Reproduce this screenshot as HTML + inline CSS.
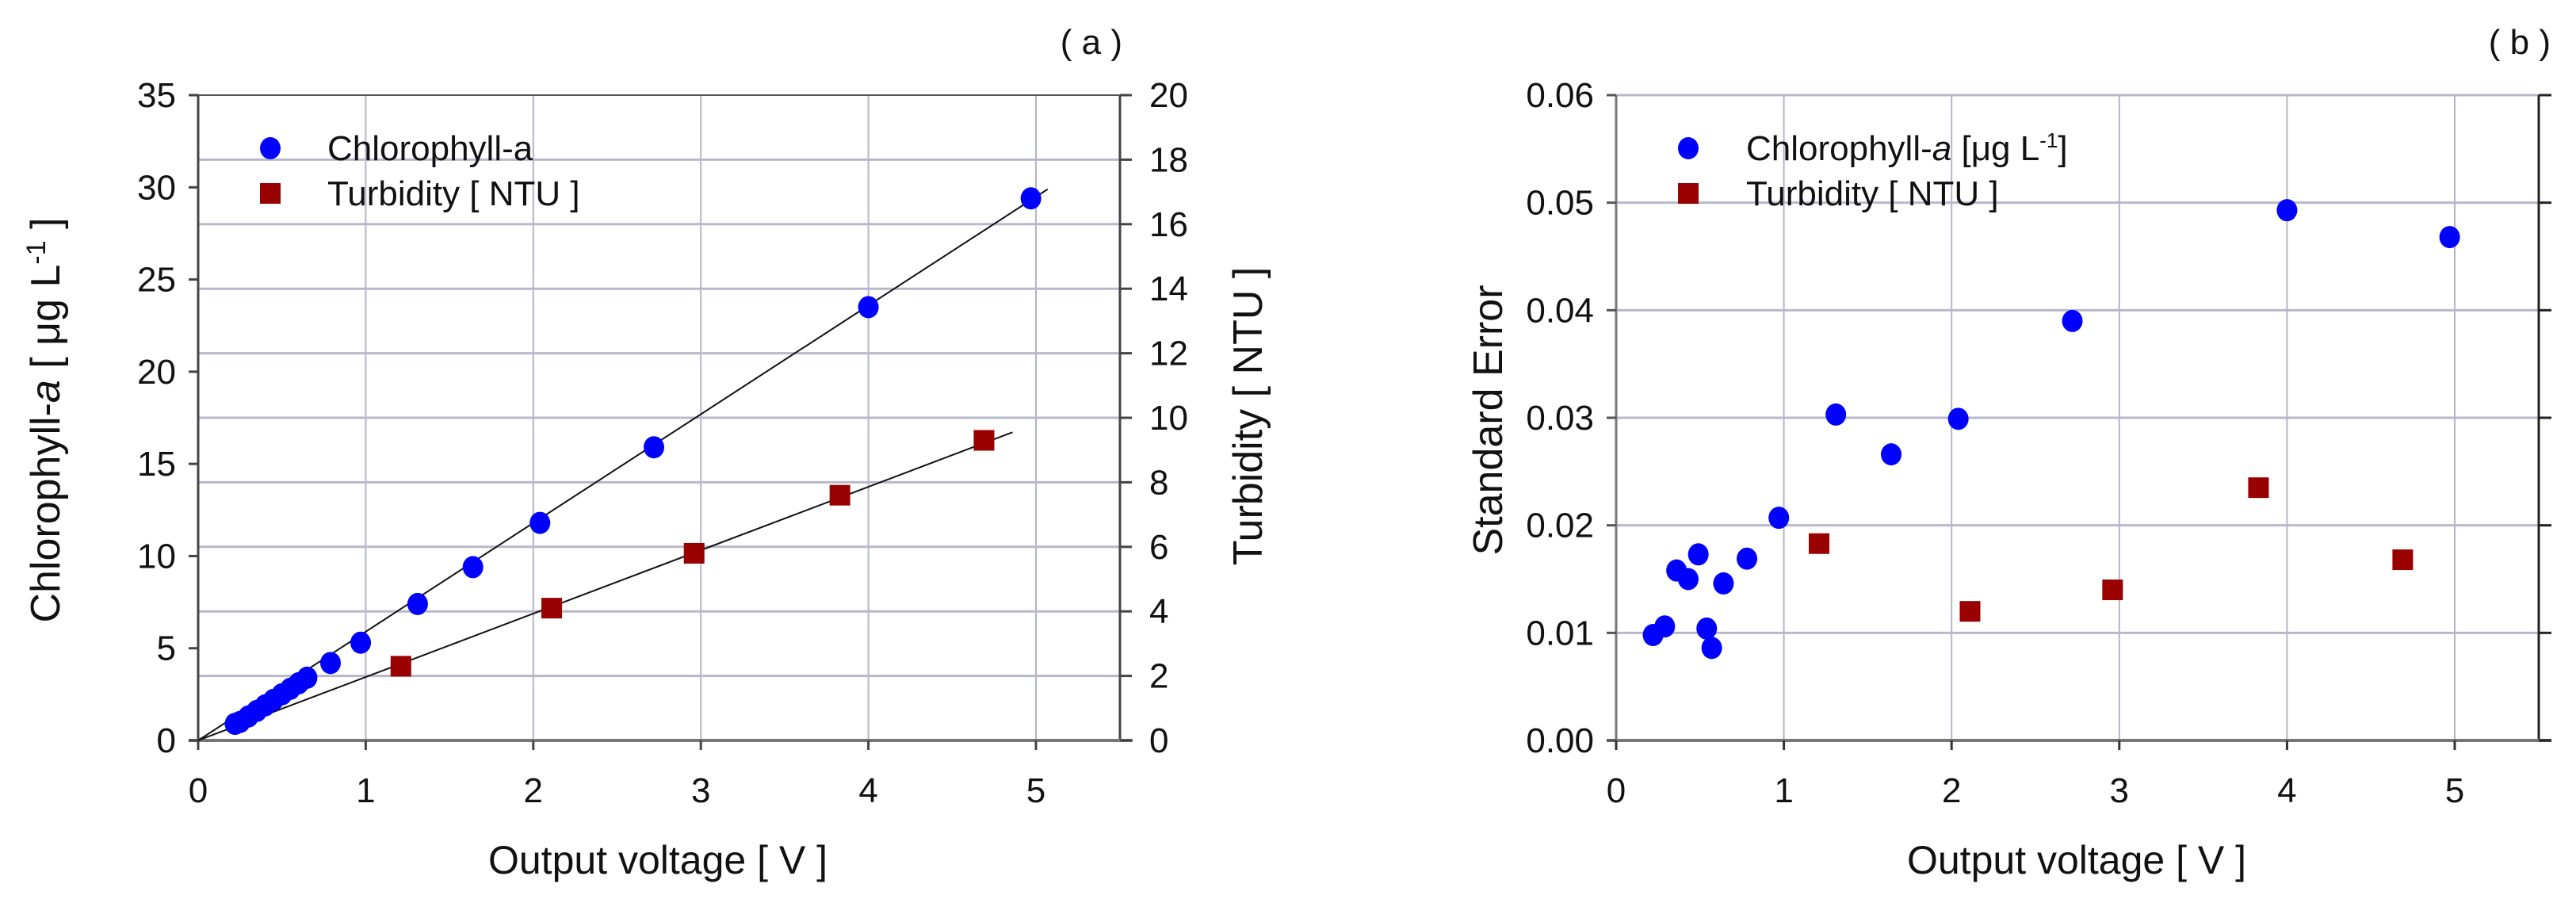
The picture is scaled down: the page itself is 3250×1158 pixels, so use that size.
<!DOCTYPE html>
<html><head><meta charset="utf-8"><style>
html,body{margin:0;padding:0;background:#fff;}
svg{display:block;font-family:"Liberation Sans",sans-serif;}
</style></head><body>
<svg id="fig" width="3250" height="1158" viewBox="0 0 3250 1158" xmlns="http://www.w3.org/2000/svg">
<rect width="3250" height="1158" fill="#fff"/>
</svg>
<script>
// Panel a data
const xTicks = [0,1,2,3,4,5];
const chlTicks = [0,5,10,15,20,25,30,35];
const turbTicks = [0,2,4,6,8,10,12,14,16,18,20];
const chlV = [0.22,0.25,0.3,0.35,0.4,0.45,0.5,0.55,0.6,0.65,0.79,0.97,1.31,1.64,2.04,2.72,4.0,4.97];
const chlVal = [0.9,1.0,1.3,1.6,1.9,2.2,2.5,2.8,3.1,3.4,4.2,5.3,7.4,9.4,11.8,15.9,23.5,29.4];
const turbV = [1.21,2.11,2.96,3.83,4.69];
const turbVal = [2.3,4.1,5.8,7.6,9.3];
const chlFit = [[0,0],[5.07,29.9]];
const turbFit = [[0,0],[4.86,9.55]];
// Panel b data
const seTicks = [0,0.01,0.02,0.03,0.04,0.05,0.06];
const seTickLabels = ["0.00","0.01","0.02","0.03","0.04","0.05","0.06"];
const seChlV = [0.22,0.29,0.36,0.43,0.49,0.54,0.57,0.64,0.78,0.97,1.31,1.64,2.04,2.72,4.0,4.97];
const seChl = [0.0098,0.0106,0.0158,0.015,0.0173,0.0104,0.0086,0.0146,0.0169,0.0207,0.0303,0.0266,0.0299,0.039,0.0493,0.0468];
const seTurbV = [1.21,2.11,2.96,3.83,4.69];
const seTurb = [0.0183,0.012,0.014,0.0235,0.0168];

const NS="http://www.w3.org/2000/svg";
const svg=document.getElementById('fig');
function mk(tag,attrs,parent,text){const e=document.createElementNS(NS,tag);for(const k in attrs)e.setAttribute(k,attrs[k]);if(text!==undefined)e.textContent=text;(parent||svg).appendChild(e);return e;}

const TOP=120,BOT=934,FS=44;
function panel(L,R,x5,yMax){
  const sx=v=>L+(x5-L)/5*v;
  const sy=v=>BOT-(BOT-TOP)*v/yMax;
  return {sx,sy};
}
// ---------- Panel A ----------
const gA=mk('g',{});


const A=panel(250,1413,1307,35);
const syT=v=>BOT-(BOT-TOP)*v/20;
xTicks.slice(1).forEach(t=>{const l=mk('line',{x1:A.sx(t),x2:A.sx(t),y1:TOP,y2:BOT,stroke:'#b4b4c8','stroke-width':2},gA);
});
turbTicks.slice(1,-1).forEach(t=>{const l=mk('line',{x1:250,x2:1413,y1:syT(t),y2:syT(t),stroke:'#b8b8cc','stroke-width':3},gA);
});
mk('line',{x1:250,x2:1413,y1:TOP,y2:TOP,stroke:'#555','stroke-width':2},gA);
mk('line',{x1:250,x2:250,y1:TOP,y2:BOT+12,stroke:'#444','stroke-width':3},gA);
mk('line',{x1:1413,x2:1413,y1:TOP,y2:BOT,stroke:'#444','stroke-width':3},gA);
mk('line',{x1:238,x2:1429,y1:BOT,y2:BOT,stroke:'#777','stroke-width':4},gA);
chlTicks.forEach(t=>{mk('line',{x1:238,x2:250,y1:A.sy(t),y2:A.sy(t),stroke:'#444','stroke-width':3},gA);
 const tx=mk('text',{x:222,y:A.sy(t)+15,'font-size':FS,'text-anchor':'end',fill:'#111'},gA,String(t));
 });
turbTicks.forEach(t=>{mk('line',{x1:1413,x2:1428,y1:syT(t),y2:syT(t),stroke:'#444','stroke-width':3},gA);
 const tx=mk('text',{x:1450,y:syT(t)+15,'font-size':FS,'text-anchor':'start',fill:'#111'},gA,String(t));
 });
xTicks.forEach(t=>{mk('line',{x1:A.sx(t),x2:A.sx(t),y1:BOT,y2:BOT+12,stroke:'#444','stroke-width':3},gA);
 const tx=mk('text',{x:A.sx(t),y:1012,'font-size':FS,'text-anchor':'middle',fill:'#111'},gA,String(t));
 });
let fl=mk('line',{x1:A.sx(chlFit[0][0]),y1:A.sy(chlFit[0][1]),x2:A.sx(chlFit[1][0]),y2:A.sy(chlFit[1][1]),stroke:'#111','stroke-width':2},gA);

fl=mk('line',{x1:A.sx(turbFit[0][0]),y1:syT(turbFit[0][1]),x2:A.sx(turbFit[1][0]),y2:syT(turbFit[1][1]),stroke:'#111','stroke-width':2},gA);

chlV.forEach((v,i)=>{const c=mk('ellipse',{cx:A.sx(v),cy:A.sy(chlVal[i]),rx:13,ry:14,fill:'#0000ff'},gA);
 });
turbV.forEach((v,i)=>{const r=mk('rect',{x:A.sx(v)-13,y:syT(turbVal[i])-13,width:26,height:26,fill:'#990000'},gA);
 });
let lg=mk('g',{},gA);
mk('ellipse',{cx:341,cy:187,rx:13,ry:14,fill:'#0000ff'},lg);
mk('text',{x:413,y:202,'font-size':FS,fill:'#111'},lg,'Chlorophyll-a');
mk('rect',{x:328,y:231,width:26,height:26,fill:'#990000'},lg);
mk('text',{x:413,y:259,'font-size':FS,fill:'#111'},lg,'Turbidity [ NTU ]');
let t=mk('text',{x:830,y:1102,'font-size':50,'text-anchor':'middle',fill:'#111'},gA,'Output voltage [ V ]');

t=mk('text',{transform:'translate(75,530) rotate(-90)','font-size':52,'text-anchor':'middle',fill:'#111'},gA);
t.innerHTML='Chlorophyll-<tspan font-style="italic">a</tspan> [ μg L<tspan dy="-18" font-size="34">-1</tspan><tspan dy="18"> ]</tspan>';

t=mk('text',{transform:'translate(1592,525) rotate(-90)','font-size':52,'text-anchor':'middle',fill:'#111'},gA,'Turbidity [ NTU ]');

t=mk('text',{x:1416,y:68,'font-size':FS,'text-anchor':'end',fill:'#111'},gA,'( a )');


// ---------- Panel B ----------
const gB=mk('g',{});


const B=panel(2039,3203,3097,0.06);
xTicks.slice(1).forEach(t=>{const l=mk('line',{x1:B.sx(t),x2:B.sx(t),y1:TOP,y2:BOT,stroke:'#b4b4c8','stroke-width':2},gB);
});
seTicks.slice(1).forEach(t=>{const l=mk('line',{x1:2039,x2:3203,y1:B.sy(t),y2:B.sy(t),stroke:'#b8b8cc','stroke-width':3},gB);
});
mk('line',{x1:2039,x2:2039,y1:TOP,y2:BOT+12,stroke:'#777','stroke-width':3},gB);
mk('line',{x1:3203,x2:3203,y1:TOP,y2:BOT,stroke:'#222','stroke-width':3},gB);
mk('line',{x1:2027,x2:3219,y1:BOT,y2:BOT,stroke:'#777','stroke-width':4},gB);
seTicks.forEach((s,i)=>{mk('line',{x1:2027,x2:2039,y1:B.sy(s),y2:B.sy(s),stroke:'#555','stroke-width':3},gB);
 mk('line',{x1:3203,x2:3219,y1:B.sy(s),y2:B.sy(s),stroke:'#222','stroke-width':3},gB);
 const tx=mk('text',{x:2011,y:B.sy(s)+15,'font-size':FS,'text-anchor':'end',fill:'#111'},gB,seTickLabels[i]);
 });
xTicks.forEach(t=>{mk('line',{x1:B.sx(t),x2:B.sx(t),y1:BOT,y2:BOT+12,stroke:'#333','stroke-width':3},gB);
 const tx=mk('text',{x:B.sx(t),y:1012,'font-size':FS,'text-anchor':'middle',fill:'#111'},gB,String(t));
 });
seChlV.forEach((v,i)=>{const c=mk('ellipse',{cx:B.sx(v),cy:B.sy(seChl[i]),rx:13,ry:14,fill:'#0000ff'},gB);
 });
seTurbV.forEach((v,i)=>{const r=mk('rect',{x:B.sx(v)-13,y:B.sy(seTurb[i])-13,width:26,height:26,fill:'#990000'},gB);
 });
lg=mk('g',{},gB);
mk('ellipse',{cx:2130,cy:187,rx:13,ry:14,fill:'#0000ff'},lg);
t=mk('text',{x:2203,y:202,'font-size':FS,fill:'#111'},lg);
t.innerHTML='Chlorophyll-<tspan font-style="italic">a</tspan> [μg L<tspan dy="-16" font-size="26">-1</tspan><tspan dy="16">]</tspan>';
mk('rect',{x:2117,y:231,width:26,height:26,fill:'#990000'},lg);
mk('text',{x:2203,y:259,'font-size':FS,fill:'#111'},lg,'Turbidity [ NTU ]');
t=mk('text',{x:2620,y:1102,'font-size':50,'text-anchor':'middle',fill:'#111'},gB,'Output voltage [ V ]');

t=mk('text',{transform:'translate(1895,530) rotate(-90)','font-size':52,'text-anchor':'middle',fill:'#111'},gB,'Standard Error');

t=mk('text',{x:3218,y:68,'font-size':FS,'text-anchor':'end',fill:'#111'},gB,'( b )');

</script>
</body></html>
